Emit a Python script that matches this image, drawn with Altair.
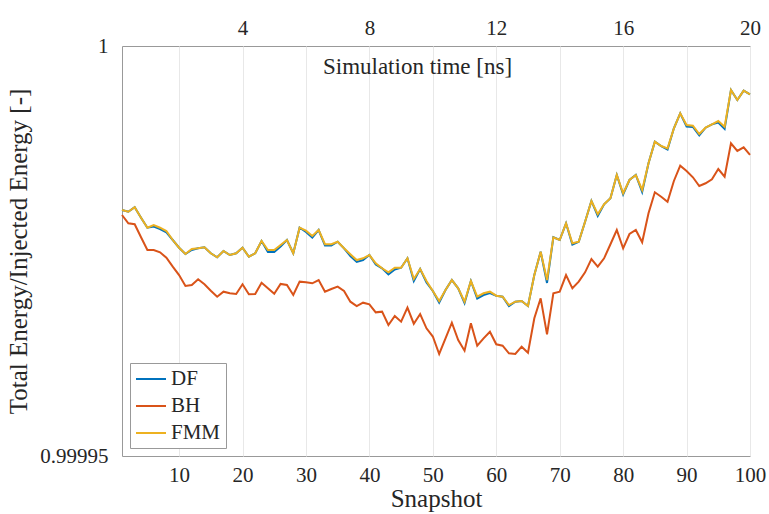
import altair as alt
import pandas as pd

snapshots = list(range(1, 101))

# energy deficit (1 - E/E0) in parts per million
df_ppm = [20.00, 20.21, 19.67, 20.94, 22.16, 22.01, 22.32, 22.74, 23.66, 24.60,
          25.37, 24.88, 24.67, 24.55, 25.28, 25.77, 25.00, 25.49, 25.28, 24.60,
          25.70, 25.28, 23.78, 25.12, 25.12, 24.45, 23.66, 25.28, 22.16, 22.68,
          23.35, 22.44, 24.33, 24.33, 23.87, 24.67, 25.61, 26.34, 26.10, 25.49,
          26.65, 27.11, 27.87, 27.26, 27.04, 25.89, 28.66, 27.20, 28.84, 29.88,
          31.28, 29.76, 28.54, 29.55, 31.34, 28.66, 30.79, 30.37, 30.12, 30.45,
          30.57, 31.71, 31.18, 31.10, 31.71, 27.93, 25.09, 28.90, 23.33, 23.66,
          21.62, 24.21, 23.87, 21.43, 18.90, 20.73, 19.30, 18.57, 15.73, 18.11,
          16.34, 15.73, 17.80, 14.30, 11.67, 12.20, 12.62, 10.04, 8.21, 9.82,
          9.88, 10.91, 9.96, 9.55, 9.33, 10.12, 5.37, 6.59, 5.45, 5.89]

bh_ppm = [20.61, 21.62, 21.74, 23.33, 24.88, 24.88, 25.16, 25.82, 26.91, 27.93,
          29.27, 29.15, 28.45, 29.06, 29.84, 30.57, 29.96, 30.16, 30.24, 29.06,
          30.28, 30.24, 28.87, 29.55, 30.21, 29.02, 29.15, 30.37, 28.74, 28.82,
          28.94, 28.54, 29.96, 29.63, 29.35, 29.88, 31.18, 31.71, 31.30, 31.50,
          32.48, 32.40, 34.02, 32.93, 33.62, 31.91, 33.87, 32.68, 34.43, 35.43,
          37.56, 35.65, 33.74, 35.85, 37.16, 33.82, 36.55, 35.65, 34.84, 36.38,
          36.55, 37.48, 37.56, 36.67, 37.40, 33.21, 30.77, 35.16, 30.16, 29.96,
          27.93, 29.55, 28.74, 27.60, 25.98, 26.91, 25.89, 24.18, 22.44, 24.67,
          22.93, 22.44, 23.94, 20.40, 17.84, 18.38, 18.99, 16.46, 14.60, 15.24,
          16.01, 17.07, 16.74, 16.26, 15.00, 15.94, 11.87, 12.80, 12.35, 13.29]

fmm_ppm = [20.00, 20.21, 19.67, 20.94, 22.16, 21.83, 22.16, 22.56, 23.66, 24.60,
           25.37, 24.76, 24.67, 24.55, 25.28, 25.77, 25.00, 25.49, 25.28, 24.60,
           25.70, 25.28, 23.78, 24.88, 24.88, 24.27, 23.66, 25.28, 22.16, 22.52,
           23.17, 22.44, 24.18, 24.18, 23.87, 24.67, 25.40, 26.10, 25.89, 25.49,
           26.50, 27.11, 27.60, 27.04, 27.04, 25.89, 28.41, 27.20, 28.66, 29.88,
           31.10, 29.76, 28.54, 29.55, 31.18, 28.66, 30.57, 30.16, 29.96, 30.45,
           30.57, 31.59, 31.18, 31.10, 31.71, 27.93, 25.09, 28.54, 23.33, 23.66,
           21.62, 24.06, 23.87, 21.43, 18.90, 20.52, 19.30, 18.57, 15.73, 17.96,
           16.34, 15.73, 17.56, 14.30, 11.67, 12.20, 12.48, 10.04, 8.21, 9.63,
           9.72, 10.73, 9.96, 9.55, 9.15, 9.84, 5.37, 6.59, 5.45, 5.89]

series_names = ["DF", "BH", "FMM"]
series_colors = ["#0072BD", "#D95319", "#EDB120"]
x_ticks = [10, 20, 30, 40, 50, 60, 70, 80, 90, 100]
time_ticks = [4, 8, 12, 16, 20]
y_ticks = [0.99995, 1.0]
ns_per_snapshot = 0.2

rows = []
for name, vals in zip(series_names, [df_ppm, bh_ppm, fmm_ppm]):
    for s, d in zip(snapshots, vals):
        rows.append({"snapshot": s, "time": s * ns_per_snapshot,
                     "energy": 1.0 - d * 1e-6, "series": name})
data = pd.DataFrame(rows)

FONT = "Liberation Serif"
TXT = "#262626"

color = alt.Color(
    "series:N",
    scale=alt.Scale(domain=series_names, range=series_colors),
    sort=series_names,
    legend=alt.Legend(
        title=None, orient="bottom-left", offset=8,
        symbolType="M-1.5,0H1.5", symbolSize=400, symbolStrokeWidth=2,
        symbolOffset=5,
        labelFont=FONT, labelFontSize=21, labelColor=TXT,
        strokeColor="#999999", fillColor="white", padding=5,
        rowPadding=6, labelOffset=9,
    ),
)

xs = alt.X(
    "snapshot:Q",
    scale=alt.Scale(domain=[1, 100], nice=False, zero=False),
    axis=alt.Axis(
        orient="bottom", values=x_ticks, title="Snapshot", grid=True,
        gridColor="#e8e8e8", tickSize=0, domain=False, labelFlush=False,
        labelFont=FONT, labelFontSize=21, labelColor=TXT, labelPadding=8,
        titleFont=FONT, titleFontSize=25, titleFontWeight="normal",
        titleColor=TXT, titlePadding=1,
    ),
)
ys = alt.Y(
    "energy:Q",
    scale=alt.Scale(domain=[0.99995, 1.0], nice=False, zero=False),
    axis=alt.Axis(
        values=y_ticks, title="Total Energy/Injected Energy [-]", grid=False,
        tickSize=0, domain=False, labelFlush=False,
        labelExpr="datum.value > 0.99999 ? '1' : '0.99995'",
        labelFont=FONT, labelFontSize=21, labelColor=TXT, labelPadding=14,
        titleFont=FONT, titleFontSize=25, titleFontWeight="normal",
        titleColor=TXT, titlePadding=8,
    ),
)

layers = []
for name in series_names:
    layers.append(
        alt.Chart(data).transform_filter(alt.datum.series == name)
        .mark_line(strokeWidth=2)
        .encode(x=xs, y=ys, color=color)
    )
main = alt.layer(*layers)

top = alt.Chart(data).transform_filter(alt.datum.series == "FMM").mark_line(opacity=0).encode(
    x=alt.X(
        "time:Q",
        scale=alt.Scale(domain=[ns_per_snapshot, 20], nice=False, zero=False),
        axis=alt.Axis(
            orient="top", values=time_ticks, title="Simulation time [ns]",
            grid=False, tickSize=0, domain=False, labelFlush=False,
            labelFont=FONT, labelFontSize=21, labelColor=TXT, labelPadding=8,
            titleFont=FONT, titleFontSize=23, titleFontWeight="normal",
            titleColor=TXT, titleX=295, titleY=27, titleAlign="center",
            titleBaseline="alphabetic",
        ),
    ),
    y=alt.Y("energy:Q"),
)

chart = (
    alt.layer(main, top)
    .resolve_scale(x="independent")
    .properties(
        width=628, height=410,
        autosize=alt.AutoSizeParams(type="none"),
        padding={"left": 122, "top": 46, "right": 19, "bottom": 58},
        background="white",
    )
    .configure(font=FONT)
    .configure_view(stroke="#999999", strokeWidth=1)
)

chart.save("out.html", embed_options={"renderer": "svg", "actions": False})
